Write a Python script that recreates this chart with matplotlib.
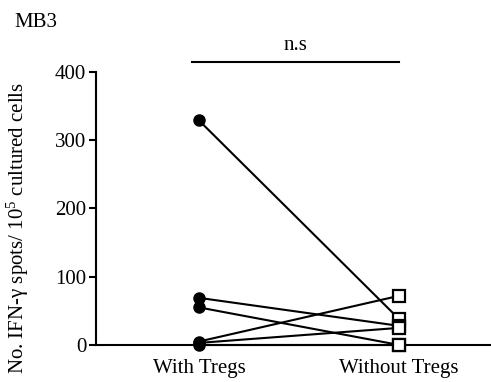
import matplotlib
matplotlib.use("Agg")
import matplotlib.pyplot as plt

# ========== Data ==========
categories = ["With Tregs", "Without Tregs"]
with_tregs = [329, 69, 55, 5, 3, 0]
without_tregs = [38, 28, 0, 72, 25, 0]
y_ticks = [0, 100, 200, 300, 400]

plt.rcParams['font.family'] = ['Liberation Serif', 'DejaVu Serif']
plt.rcParams['font.size'] = 15
plt.rcParams['mathtext.fontset'] = 'custom'
plt.rcParams['mathtext.rm'] = 'Liberation Serif'
plt.rcParams['mathtext.it'] = 'Liberation Serif:italic'

fig = plt.figure(figsize=(4.91, 3.82), dpi=100)
ax = fig.add_axes([0.1955, 0.097, 0.8025, 0.7145])

# paired lines
for a, b in zip(with_tregs, without_tregs):
    ax.plot([0, 1], [a, b], color='black', lw=1.5, zorder=2, clip_on=False)

ax.plot([0] * len(with_tregs), with_tregs, 'o', color='black', ms=8,
        zorder=3, clip_on=False)
ax.plot([1] * len(without_tregs), without_tregs, 's', mfc='white', mec='black',
        mew=1.6, ms=9, zorder=3, clip_on=False)

ax.set_xlim(-0.515, 1.455)
ax.set_ylim(0, 400)
ax.set_yticks(y_ticks)
ax.set_xticks([0, 1])
ax.set_xticklabels(categories)
ax.tick_params(axis='x', length=0, pad=10)
ax.tick_params(axis='y', length=5, width=1.5, direction='out', pad=2)

for side in ['top', 'right']:
    ax.spines[side].set_visible(False)
ax.spines['left'].set_linewidth(1.5)
ax.spines['bottom'].set_linewidth(1.5)

ax.set_ylabel("No. IFN-\u03b3 spots/ 10$^{5}$ cultured cells")
ax.yaxis.set_label_coords(-0.165, 0.43)

# significance bar
ax.plot([-0.035, 1.0], [415, 415], color='black', lw=1.5, clip_on=False)
ax.text(0.48, 425, "n.s", ha='center', va='bottom')

fig.text(0.03, 0.94, "MB3", ha='left', va='center')

fig.savefig("out.png", dpi=100)
